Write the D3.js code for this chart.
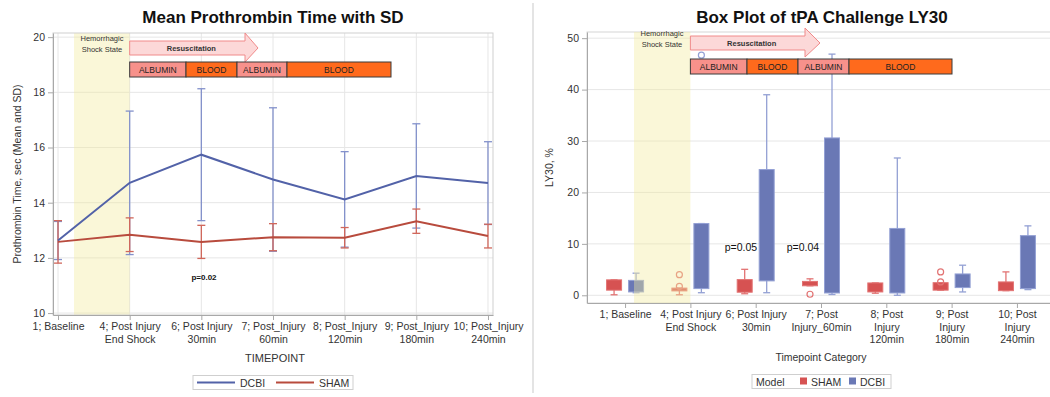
<!DOCTYPE html>
<html>
<head>
<meta charset="utf-8">
<script src="https://cdn.jsdelivr.net/npm/d3@7"></script>
<style>
  html, body { margin: 0; padding: 0; background: #fff; }
  svg { display: block; font-family: "Liberation Sans", Arial, sans-serif; }
</style>
</head>
<body>
<script>
// ---------- Prothrombin time (mean ± SD) ----------
const ptLabels = [
  ["1; Baseline"],
  ["4; Post Injury", "End Shock"],
  ["6; Post Injury", "30min"],
  ["7; Post_Injury", "60min"],
  ["8; Post_Injury", "120min"],
  ["9; Post_Injury", "180min"],
  ["10; Post_Injury", "240min"]
];
const ptTicks = [10, 12, 14, 16, 18, 20];
const dcbiMean = [12.63, 14.72, 15.74, 14.84, 14.12, 14.97, 14.71];
const dcbiSD   = [0.69, 2.60, 2.39, 2.60, 1.73, 1.89, 1.50];
const shamMean = [12.58, 12.84, 12.58, 12.75, 12.73, 13.33, 12.79];
const shamSD   = [0.77, 0.61, 0.60, 0.49, 0.37, 0.44, 0.43];

// ---------- tPA challenge LY30 box plot ----------
const lyLabels = [
  ["1; Baseline"],
  ["4; Post Injury", "End Shock"],
  ["6; Post Injury", "30min"],
  ["7; Post", "Injury_60min"],
  ["8; Post", "Injury", "120min"],
  ["9; Post", "Injury", "180min"],
  ["10; Post", "Injury", "240min"]
];
const lyTicks = [0, 10, 20, 30, 40, 50];
const shamMin = [0.1, 0.1, 0.3, 1.85, 0.4, 1.0, 0.9];
const shamQ1  = [1.0, 0.85, 0.6, 1.85, 0.65, 1.0, 0.9];
const shamQ3  = [3.0, 1.4, 3.05, 2.7, 2.4, 2.45, 2.6];
const shamMax = [3.0, 1.4, 5.05, 3.2, 2.4, 2.45, 4.55];
const shamOut = [[], [1.75, 4.0], [], [0.2], [], [2.6, 4.55], []];
const dcbiMin = [0.5, 0.5, 0.5, 0.15, 0.0, 0.65, 1.1];
const dcbiQ1  = [0.65, 1.3, 2.8, 0.45, 0.45, 1.5, 1.3];
const dcbiQ3  = [2.9, 13.95, 24.45, 30.6, 13.0, 4.15, 11.6];
const dcbiMax = [4.3, 13.95, 39.0, 46.9, 26.7, 5.85, 13.5];
const dcbiOut = [[], [46.7], [], [], [], [], []];

const phases = ["ALBUMIN", "BLOOD", "ALBUMIN", "BLOOD"];

const C = {
  dcbiLine: "#5262a8", shamLine: "#b84b3d",
  dcbiErr: "#8391cb", shamErr: "#d0675b",
  dcbiBox: "#6a78b5", shamBox: "#d65252",
  dcbiWhisk: "#93a0d4", shamWhisk: "#e27373",
  grid: "#e6e6e6", axis: "#a8a8a8", text: "#333",
  shock: "#f3ec9e", albumin: "#f7918b", blood: "#ff6a1c",
  arrowFill: "#fcd8d8", arrowStroke: "#f08a8a"
};

const svg = d3.select("body").append("svg").attr("width", 1050).attr("height", 397);

// Resuscitation / shock overlay: shock label, arrow and fluid phase bar
function drawProtocol(g, o) {
  g.append("text").attr("x", o.shockMid).attr("y", o.arrowMid - 7)
    .attr("text-anchor", "middle").attr("font-size", 7.5).attr("fill", C.text).text("Hemorrhagic");
  g.append("text").attr("x", o.shockMid).attr("y", o.arrowMid + 4)
    .attr("text-anchor", "middle").attr("font-size", 7.5).attr("fill", C.text).text("Shock State");
  const a = o.arrowMid, x0 = o.arrowX0, xb = o.arrowBody, xt = o.arrowTip;
  g.append("path")
    .attr("d", `M${x0},${a - 7}H${xb}V${a - 15}L${xt},${a}L${xb},${a + 14}V${a + 7}H${x0}Z`)
    .attr("fill", C.arrowFill).attr("stroke", C.arrowStroke).attr("stroke-width", 1);
  g.append("text").attr("x", (x0 + xb) / 2 + 4).attr("y", a + 2.5)
    .attr("text-anchor", "middle").attr("font-size", 7.5).attr("font-weight", "bold")
    .attr("fill", C.text).text("Resuscitation");
  const segs = o.phaseEdges;
  phases.forEach((p, i) => {
    g.append("rect").attr("x", segs[i]).attr("y", o.barY).attr("width", segs[i + 1] - segs[i])
      .attr("height", 15).attr("fill", p === "BLOOD" ? C.blood : C.albumin)
      .attr("stroke", "#3a3a3a").attr("stroke-width", 1);
    g.append("text").attr("x", (segs[i] + segs[i + 1]) / 2).attr("y", o.barY + 10.5)
      .attr("text-anchor", "middle").attr("font-size", 8.5).attr("fill", "#222").text(p);
  });
}

function multiLineTicks(axisG, labels, lineH) {
  axisG.selectAll(".tick text").each(function (d) {
    const t = d3.select(this);
    t.text(null);
    labels[d].forEach((s, i) => {
      t.append("tspan").attr("x", 0).attr("dy", i === 0 ? "0.71em" : lineH).text(s);
    });
  });
}

function styleAxis(axisG) {
  axisG.selectAll("path.domain").attr("stroke", C.axis);
  axisG.selectAll(".tick line").attr("stroke", C.axis);
  axisG.selectAll("text").attr("fill", C.text).attr("font-size", 10.5);
}

// ================= Left panel =================
{
  const g = svg.append("g");
  const box = { l: 53, r: 493, t: 33, b: 315 };
  const idx = d3.range(ptLabels.length);
  const x = d3.scalePoint().domain(idx).range([box.l, box.r]).padding(0.07);
  const y = d3.scaleLinear().domain([9.93, 20.15]).range([box.b, box.t]);

  g.append("text").attr("x", 273).attr("y", 23).attr("text-anchor", "middle")
    .attr("font-size", 17).attr("font-weight", "bold").attr("fill", "#111")
    .text("Mean Prothrombin Time with SD");

  // grid
  g.append("g").selectAll("line").data(ptTicks).join("line")
    .attr("x1", box.l).attr("x2", box.r).attr("y1", d => y(d)).attr("y2", d => y(d))
    .attr("stroke", C.grid);
  g.append("g").selectAll("line").data(idx).join("line")
    .attr("x1", d => x(d)).attr("x2", d => x(d)).attr("y1", box.t).attr("y2", box.b)
    .attr("stroke", C.grid);

  // shock band
  g.append("rect").attr("x", 74).attr("y", box.t).attr("width", x(1) - 74)
    .attr("height", box.b - box.t).attr("fill", C.shock).attr("opacity", 0.4);

  g.append("rect").attr("x", box.l).attr("y", box.t).attr("width", box.r - box.l)
    .attr("height", box.b - box.t).attr("fill", "none").attr("stroke", "#cfcfcf");

  const ay = g.append("g").attr("transform", `translate(${box.l},0)`)
    .call(d3.axisLeft(y).tickValues(ptTicks).tickSize(5).tickSizeOuter(0));
  styleAxis(ay);
  const ax = g.append("g").attr("transform", `translate(0,${box.b})`)
    .call(d3.axisBottom(x).tickSize(5).tickSizeOuter(0));
  styleAxis(ax);
  multiLineTicks(ax, ptLabels, "1.2em");

  g.append("text").attr("x", 275).attr("y", 362).attr("text-anchor", "middle")
    .attr("font-size", 11).attr("fill", C.text).text("TIMEPOINT");
  g.append("text").attr("transform", `translate(21,${(box.t + box.b) / 2}) rotate(-90)`)
    .attr("text-anchor", "middle").attr("font-size", 10.5).attr("fill", C.text)
    .text("Prothrombin Time, sec (Mean and SD)");

  // error bars
  const series = [
    { mean: dcbiMean, sd: dcbiSD, line: C.dcbiLine, err: C.dcbiErr },
    { mean: shamMean, sd: shamSD, line: C.shamLine, err: C.shamErr }
  ];
  series.forEach(s => {
    const eg = g.append("g").attr("stroke", s.err).attr("stroke-width", 1.3);
    idx.forEach(i => {
      const hi = y(s.mean[i] + s.sd[i]), lo = y(s.mean[i] - s.sd[i]), cx = x(i);
      eg.append("line").attr("x1", cx).attr("x2", cx).attr("y1", hi).attr("y2", lo);
      eg.append("line").attr("x1", cx - 4).attr("x2", cx + 4).attr("y1", hi).attr("y2", hi);
      eg.append("line").attr("x1", cx - 4).attr("x2", cx + 4).attr("y1", lo).attr("y2", lo);
    });
  });
  series.forEach(s => {
    g.append("path").datum(idx)
      .attr("d", d3.line().x(i => x(i)).y(i => y(s.mean[i])))
      .attr("fill", "none").attr("stroke", s.line).attr("stroke-width", 2);
  });

  g.append("text").attr("x", 204).attr("y", 280).attr("text-anchor", "middle")
    .attr("font-size", 8).attr("font-weight", "bold").attr("fill", "#111").text("p=0.02");

  drawProtocol(g, {
    shockMid: 102, arrowMid: 48, arrowX0: x(1), arrowBody: 245, arrowTip: 258,
    barY: 62, phaseEdges: [x(1), 186, 237, 287, 391]
  });

  // legend
  const lg = g.append("g");
  lg.append("rect").attr("x", 193).attr("y", 375.5).attr("width", 160).attr("height", 14)
    .attr("fill", "#fff").attr("stroke", "#cfcfcf");
  [[C.dcbiLine, "DCBI", 197], [C.shamLine, "SHAM", 276]].forEach(([c, t, x0]) => {
    lg.append("line").attr("x1", x0).attr("x2", x0 + 38).attr("y1", 382.5).attr("y2", 382.5)
      .attr("stroke", c).attr("stroke-width", 2);
    lg.append("text").attr("x", x0 + 43).attr("y", 386.5).attr("font-size", 10.5)
      .attr("fill", C.text).text(t);
  });
}

// separator between panels
svg.append("line").attr("x1", 533).attr("x2", 533).attr("y1", 3).attr("y2", 393)
  .attr("stroke", "#e4e4e4").attr("stroke-width", 2);

// ================= Right panel =================
{
  const g = svg.append("g");
  const box = { l: 587, r: 1055, t: 32, b: 303 };
  const idx = d3.range(lyLabels.length);
  const x = d3.scalePoint().domain(idx).range([box.l, box.r]).padding(0.583);
  const y = d3.scaleLinear().domain([-1.5, 51.2]).range([box.b, box.t]);

  g.append("text").attr("x", 822).attr("y", 23).attr("text-anchor", "middle")
    .attr("font-size", 17).attr("font-weight", "bold").attr("fill", "#111")
    .text("Box Plot of tPA Challenge LY30");

  g.append("g").selectAll("line").data(lyTicks).join("line")
    .attr("x1", box.l).attr("x2", box.r).attr("y1", d => y(d)).attr("y2", d => y(d))
    .attr("stroke", C.grid);
  g.append("rect").attr("x", box.l).attr("y", box.t).attr("width", box.r - box.l)
    .attr("height", box.b - box.t).attr("fill", "none").attr("stroke", "#d6d6d6");

  const ay = g.append("g").attr("transform", `translate(${box.l},0)`)
    .call(d3.axisLeft(y).tickValues(lyTicks).tickSize(5).tickSizeOuter(0));
  styleAxis(ay);
  const ax = g.append("g").attr("transform", `translate(0,${box.b})`)
    .call(d3.axisBottom(x).tickSize(5).tickSizeOuter(0));
  styleAxis(ax);
  multiLineTicks(ax, lyLabels, "1.15em");

  g.append("text").attr("x", 821).attr("y", 361).attr("text-anchor", "middle")
    .attr("font-size", 10.5).attr("fill", C.text).text("Timepoint Category");
  g.append("text").attr("transform", `translate(553,${(box.t + box.b) / 2}) rotate(-90)`)
    .attr("text-anchor", "middle").attr("font-size", 10.5).attr("fill", C.text).text("LY30, %");

  const groups = [
    { off: -11, min: shamMin, q1: shamQ1, q3: shamQ3, max: shamMax, out: shamOut, fill: C.shamBox, wh: C.shamWhisk },
    { off: 11, min: dcbiMin, q1: dcbiQ1, q3: dcbiQ3, max: dcbiMax, out: dcbiOut, fill: C.dcbiBox, wh: C.dcbiWhisk }
  ];
  const bw = 15;
  groups.forEach(s => {
    const bg = g.append("g");
    idx.forEach(i => {
      const cx = x(i) + s.off;
      const w = bg.append("g").attr("stroke", s.wh).attr("stroke-width", 1.3);
      w.append("line").attr("x1", cx).attr("x2", cx).attr("y1", y(s.max[i])).attr("y2", y(s.min[i]));
      w.append("line").attr("x1", cx - 3.5).attr("x2", cx + 3.5).attr("y1", y(s.max[i])).attr("y2", y(s.max[i]));
      w.append("line").attr("x1", cx - 3.5).attr("x2", cx + 3.5).attr("y1", y(s.min[i])).attr("y2", y(s.min[i]));
      bg.append("rect").attr("x", cx - bw / 2).attr("y", y(s.q3[i]))
        .attr("width", bw).attr("height", Math.max(1, y(s.q1[i]) - y(s.q3[i])))
        .attr("fill", s.fill).attr("stroke", s.wh).attr("stroke-width", 1);
      s.out[i].forEach(v => {
        bg.append("circle").attr("cx", cx).attr("cy", y(v)).attr("r", 3)
          .attr("fill", "none").attr("stroke", s.wh).attr("stroke-width", 1.2);
      });
    });
  });

  // shock band, drawn translucent over the boxes
  g.append("rect").attr("x", 634).attr("y", box.t).attr("width", x(1) - 634)
    .attr("height", box.b - box.t).attr("fill", C.shock).attr("opacity", 0.4);

  g.append("text").attr("x", 741).attr("y", 251).attr("text-anchor", "middle")
    .attr("font-size", 10.5).attr("fill", "#111").text("p=0.05");
  g.append("text").attr("x", 803).attr("y", 251).attr("text-anchor", "middle")
    .attr("font-size", 10.5).attr("fill", "#111").text("p=0.04");

  drawProtocol(g, {
    shockMid: 662, arrowMid: 43, arrowX0: x(1), arrowBody: 805, arrowTip: 820,
    barY: 59, phaseEdges: [x(1), 747, 798, 849, 952]
  });

  const lg = g.append("g");
  lg.append("rect").attr("x", 752).attr("y", 374.5).attr("width", 139).attr("height", 14)
    .attr("fill", "#fff").attr("stroke", "#cfcfcf");
  lg.append("text").attr("x", 756).attr("y", 385.5).attr("font-size", 10.5).attr("fill", C.text).text("Model");
  [[C.shamBox, "SHAM", 800], [C.dcbiBox, "DCBI", 849]].forEach(([c, t, x0]) => {
    lg.append("rect").attr("x", x0).attr("y", 377.5).attr("width", 7).attr("height", 7).attr("fill", c);
    lg.append("text").attr("x", x0 + 11).attr("y", 385.5).attr("font-size", 10.5).attr("fill", C.text).text(t);
  });
}
</script>
</body>
</html>
